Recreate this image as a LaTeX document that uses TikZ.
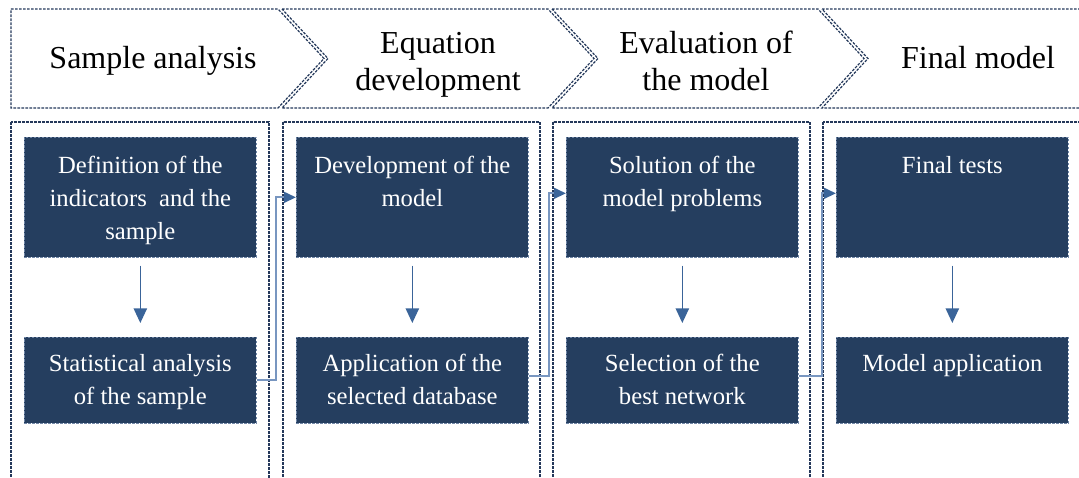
\documentclass[tikz,border=0pt]{standalone}
\usepackage{fontspec}
\setmainfont{Liberation Serif}
\usetikzlibrary{arrows.meta}
\definecolor{boxfill}{RGB}{37,62,95}
\definecolor{dashcol}{RGB}{36,56,90}
\definecolor{arrowcol}{RGB}{58,100,153}
\definecolor{conncol}{RGB}{120,150,192}
\definecolor{boxedge}{RGB}{112,134,166}
\begin{document}
\begin{tikzpicture}[x=0.75pt,y=-0.75pt,
  dashline/.style={draw=dashcol, line width=0.9pt, dash pattern=on 2pt off 1pt},
  stepbox/.style={fill=boxfill, draw=boxedge, line width=0.5pt, dash pattern=on 2pt off 1pt,
    minimum width=174pt, inner sep=0pt, anchor=north west},
  tallbox/.style={stepbox, minimum height=90pt},
  lowbox/.style={stepbox, minimum height=64.5pt},
  boxtext/.style={text=white, font=\fontsize{18.5}{24.75}\selectfont, align=center, anchor=north, inner sep=0pt},
  headtext/.style={font=\fontsize{24}{27.75}\selectfont, align=center, anchor=north, inner sep=0pt},
  downarrow/.style={draw=arrowcol, line width=1.1pt, -{Triangle[length=11pt,width=10pt]},
    shorten <=6pt, shorten >=10.5pt},
  conn/.style={draw=conncol, line width=1.7pt, -{Triangle[length=9pt,width=8pt,color=arrowcol]}}
]
\useasboundingbox (0,0) rectangle (1079,478);
\begin{scope}
\clip (0,0) rectangle (1079,478);
% header chevrons
\draw[dashline] (11,9) -- (278,9) -- (324,58.5) -- (278,108) -- (11,108) -- cycle;
\draw[dashline] (282,9) -- (548,9) -- (594,58.5) -- (548,108) -- (282,108) -- (328,58.5) -- cycle;
\draw[dashline] (552,9) -- (818,9) -- (864,58.5) -- (818,108) -- (552,108) -- (598,58.5) -- cycle;
\draw[dashline] (822,9) -- (1095,9) -- (1095,108) -- (822,108) -- (868,58.5) -- cycle;
\node[headtext] (h1) at (153,42) {\strut Sample analysis};
\node[headtext] (h2) at (438,27) {\strut Equation\\development};
\node[headtext] (h3) at (706,27) {\strut Evaluation of\\the model};
\node[headtext] (h4) at (978,42) {\strut Final model};
% columns
\draw[dashline] (11,122) rectangle (269,495);
\draw[dashline] (283,122) rectangle (540,495);
\draw[dashline] (553,122) rectangle (810,495);
\draw[dashline] (823,122) rectangle (1095,495);
% boxes
\node[tallbox] (d1) at (24,137) {};
\node[tallbox] (d2) at (296,137) {};
\node[tallbox] (d3) at (566,137) {};
\node[tallbox] (d4) at (836,137) {};
\node[lowbox] (s1) at (24,337) {};
\node[lowbox] (s2) at (296,337) {};
\node[lowbox] (s3) at (566,337) {};
\node[lowbox] (s4) at (836,337) {};
\node[boxtext] (td1) at ([yshift=-9.75pt]d1.north) {\strut Definition of the\\indicators~ and the\\sample};
\node[boxtext] (td2) at ([yshift=-9.75pt]d2.north) {\strut Development of the\\model};
\node[boxtext] (td3) at ([yshift=-9.75pt]d3.north) {\strut Solution of the\\model problems};
\node[boxtext] (td4) at ([yshift=-9.75pt]d4.north) {\strut Final tests};
\node[boxtext] (ts1) at ([yshift=-8.25pt]s1.north) {\strut Statistical analysis\\of the sample};
\node[boxtext] (ts2) at ([yshift=-8.25pt]s2.north) {\strut Application of the\\selected database};
\node[boxtext] (ts3) at ([yshift=-8.25pt]s3.north) {\strut Selection of the\\best network};
\node[boxtext] (ts4) at ([yshift=-8.25pt]s4.north) {\strut Model application};
% vertical arrows
\draw[downarrow] (d1.south) -- (s1.north);
\draw[downarrow] (d2.south) -- (s2.north);
\draw[downarrow] (d3.south) -- (s3.north);
\draw[downarrow] (d4.south) -- (s4.north);
% connectors
\draw[conn] (s1.east) -- ++(19,0) |- (d2.west);
\draw[conn] ([yshift=3pt]s2.east) -- ++(20,0) |- ([yshift=3pt]d3.west);
\draw[conn] ([yshift=3pt]s3.east) -- ++(23,0) |- ([yshift=3pt]d4.west);
\end{scope}
\end{tikzpicture}
\end{document}
